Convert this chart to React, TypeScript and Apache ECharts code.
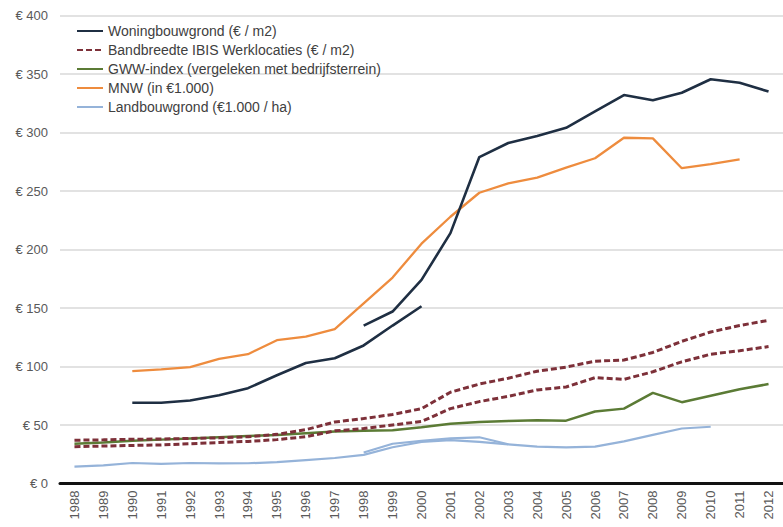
import React, { useEffect, useRef } from "react";
import * as echarts from "echarts";

const years = [
  "1988", "1989", "1990", "1991", "1992", "1993", "1994", "1995", "1996", "1997",
  "1998", "1999", "2000", "2001", "2002", "2003", "2004", "2005", "2006", "2007",
  "2008", "2009", "2010", "2011", "2012",
];

const woningOld = [null, null, 69, 69, 71, 75.5, 81.5, 92.5, 103, 107, 118, 135, 151.5,
  null, null, null, null, null, null, null, null, null, null, null, null];
const woningNew = [null, null, null, null, null, null, null, null, null, null,
  135, 147, 174, 214, 279, 291, 297, 304, 318, 332, 327.5, 334, 345.5, 342.5, 335];
const ibisHigh = [37, 37.3, 37.8, 38, 38.5, 39, 40, 42, 46, 52.5, 55.5, 59, 64, 78, 85, 90, 96,
  99.5, 104.5, 105.5, 112, 121.5, 129.5, 135, 139.5];
const ibisLow = [31.5, 32, 32.5, 33, 34, 35, 36, 37.5, 40, 45, 47, 50, 53, 64, 70, 74.5, 80,
  82.5, 90.5, 89, 95.5, 104, 110.5, 113.5, 117];
const gww = [34, 35, 36.5, 37.5, 38.5, 39.5, 40.5, 41.5, 43, 44.5, 45, 45.5, 48, 51, 52.5, 53.5,
  54, 53.7, 61.5, 64, 77.5, 69.5, 75, 80.5, 85];
const mnw = [null, null, 96, 97.5, 99.5, 106.5, 110.5, 122.5, 125.5, 132, 154, 176, 205, 228,
  248.5, 256.5, 261.5, 270, 278, 295.5, 295, 269.5, 273, 277, null];
const land = [14.5, 15.5, 17.5, 16.8, 17.5, 17.2, 17.3, 18.2, 20, 21.8, 24.5, 31, 35.5, 37,
  35.5, 33.5, 31.5, 30.8, 31.5, 36, 41.5, 47, 48.5, null, null];
const land2 = [null, null, null, null, null, null, null, null, null, null,
  26.5, 34, 36.5, 38.5, 39.5, 33.5, null, null, null, null, null, null, null, null, null];

const yTicks = { min: 0, max: 400, interval: 50 };

const names = [
  "Woningbouwgrond (€ / m2)",
  "Bandbreedte IBIS Werklocaties (€ / m2)",
  "GWW-index (vergeleken met bedrijfsterrein)",
  "MNW (in €1.000)",
  "Landbouwgrond (€1.000 / ha)",
];

const C_NAVY = "#1f2f43";
const C_RED = "#7d3039";
const C_GREEN = "#5b7b35";
const C_ORANGE = "#ee8c3e";
const C_BLUE = "#95b3d9";

function line(name: string, data: (number | null)[], color: string, width: number, dashed?: boolean) {
  return {
    type: "line",
    name,
    data,
    symbol: "none",
    connectNulls: false,
    lineStyle: { color, width, type: dashed ? [6, 3] : "solid" },
    itemStyle: { color },
  };
}

export default function App() {
  const ref = useRef<HTMLDivElement>(null);
  useEffect(() => {
    if (!ref.current) return;
    const chart = echarts.init(ref.current, undefined, { renderer: "svg" });
    chart.setOption({
      animation: false,
      backgroundColor: "#ffffff",
      textStyle: { fontFamily: "Liberation Sans, Arial, sans-serif" },
      grid: { left: 60, top: 15.5, width: 729, height: 468, containLabel: false },
      legend: {
        data: names,
        orient: "vertical",
        left: 76,
        top: 24,
        padding: 0,
        itemWidth: 26,
        itemHeight: 14,
        itemGap: 5,
        itemStyle: { opacity: 0 },
        textStyle: { fontSize: 14, color: "#404040" },
      },
      xAxis: {
        type: "category",
        data: years,
        boundaryGap: true,
        axisLine: { show: true, lineStyle: { color: "#111", width: 3 } },
        axisTick: { show: false },
        axisLabel: { rotate: 90, fontSize: 13, color: "#595959", margin: 7, interval: 0 },
        splitLine: { show: false },
      },
      yAxis: {
        type: "value",
        min: yTicks.min,
        max: yTicks.max,
        interval: yTicks.interval,
        axisLine: { show: false },
        axisTick: { show: false },
        axisLabel: { formatter: "€ {value}", fontSize: 13, color: "#595959", margin: 12 },
        splitLine: { show: true, lineStyle: { color: "#d9d9d9", width: 1.5 } },
      },
      series: [
        line(names[4], land, C_BLUE, 2.2),
        line(names[4], land2, C_BLUE, 2.2),
        line(names[2], gww, C_GREEN, 2.5),
        line(names[1], ibisLow, C_RED, 3, true),
        line(names[1], ibisHigh, C_RED, 3, true),
        line(names[3], mnw, C_ORANGE, 2.3),
        line(names[0], woningOld, C_NAVY, 2.6),
        line(names[0], woningNew, C_NAVY, 2.6),
      ],
    });
    return () => chart.dispose();
  }, []);
  return (
    <div
      ref={ref}
      style={{ position: "fixed", left: 0, top: 0, width: 783, height: 527, background: "#fff" }}
    />
  );
}
